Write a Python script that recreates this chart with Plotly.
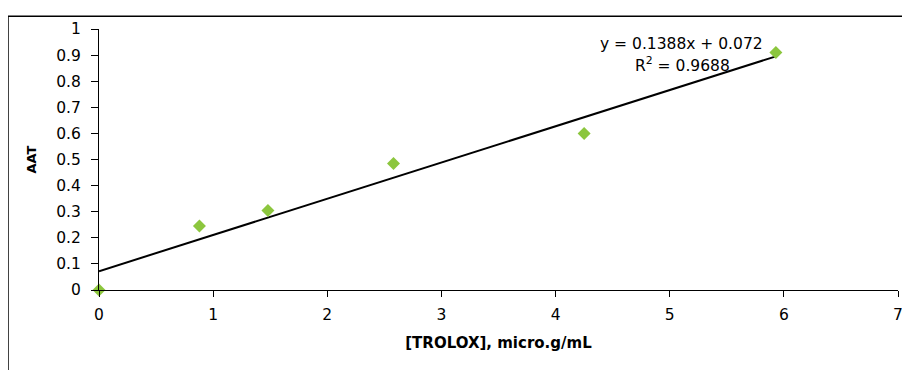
import plotly.graph_objects as go

trolox = [0, 0.88, 1.48, 2.58, 4.25, 5.93]
aat = [0, 0.245, 0.305, 0.485, 0.60, 0.91]
slope = 0.1388
intercept = 0.072
r2 = 0.9688

x_ticks = [0, 1, 2, 3, 4, 5, 6, 7]
y_ticks = [0, 0.1, 0.2, 0.3, 0.4, 0.5, 0.6, 0.7, 0.8, 0.9, 1]

FONT = "DejaVu Sans"

fit_x = [0, max(trolox)]
fit_y = [slope * v + intercept for v in fit_x]

fig = go.Figure()
fig.add_trace(go.Scatter(x=fit_x, y=fit_y, mode="lines",
                         line=dict(color="black", width=2), showlegend=False))
fig.add_trace(go.Scatter(x=trolox, y=aat, mode="markers",
                         marker=dict(symbol="diamond", size=10, color="#8CC63E"),
                         showlegend=False, cliponaxis=False))

fig.add_annotation(x=0.729, y=0.944, xref="paper", yref="paper",
                   xanchor="center", yanchor="middle",
                   text=f"y = {slope}x + {intercept}", showarrow=False,
                   font=dict(family=FONT, size=15.5, color="black"))
fig.add_annotation(x=0.730, y=0.864, xref="paper", yref="paper",
                   xanchor="center", yanchor="middle",
                   text=f"R<sup>2</sup> = {r2}", showarrow=False,
                   font=dict(family=FONT, size=15.5, color="black"))

# outer frame
fig.add_shape(type="line", xref="paper", yref="paper", x0=-0.1139, x1=1.1, y0=1.049, y1=1.049,
              line=dict(color="black", width=1.5))
fig.add_shape(type="line", xref="paper", yref="paper", x0=-0.1139, x1=-0.1139, y0=1.049, y1=-0.4,
              line=dict(color="black", width=1.5))

fig.update_xaxes(range=[0, 7], tickvals=x_ticks, ticks="outside", ticklen=6, tickcolor="black",
                 showline=True, linecolor="black", linewidth=1, showgrid=False, zeroline=False,
                 ticklabelstandoff=4,
                 tickfont=dict(family=FONT, size=15.5, color="black"),
                 title=dict(text="<b>[TROLOX], micro.g/mL</b>", standoff=14,
                            font=dict(family=FONT, size=15, color="black")))
fig.update_yaxes(range=[0, 1], tickvals=y_ticks, ticks="outside", ticklen=7, tickcolor="black",
                 showline=True, linecolor="black", linewidth=1, showgrid=False, zeroline=False,
                 ticklabelstandoff=7,
                 tickfont=dict(family=FONT, size=15.5, color="black"),
                 title=dict(text="<b>AAT</b>", standoff=16,
                            font=dict(family=FONT, size=13, color="black")))

fig.update_layout(width=910, height=370, margin=dict(l=91, r=20, t=17, b=88),
                  plot_bgcolor="white", paper_bgcolor="white")

fig.write_html("out.html")
